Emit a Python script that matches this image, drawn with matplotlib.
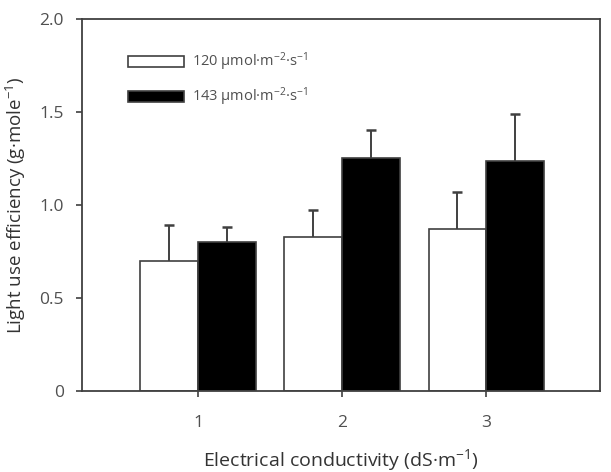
import numpy as np
import matplotlib
matplotlib.use('Agg')
import matplotlib.pyplot as plt

plt.rcParams['font.family'] = ['Open Sans', 'DejaVu Sans']
plt.rcParams['mathtext.fontset'] = 'custom'
plt.rcParams['mathtext.rm'] = 'Open Sans'

# data
ec_levels = [1, 2, 3]
lue_120 = [0.70, 0.83, 0.87]
err_120 = [0.19, 0.145, 0.20]
lue_143 = [0.80, 1.255, 1.235]
err_143 = [0.08, 0.15, 0.255]
labels = [r'120 $\mathregular{µmol·m^{-2}·s^{-1}}$',
          r'143 $\mathregular{µmol·m^{-2}·s^{-1}}$']

text_col = '#505050'
line_col = '#404040'

fig = plt.figure(figsize=(6.11, 4.72), dpi=100)
ax = fig.add_axes([0.1342, 0.1716, 0.8478, 0.788])

x = np.array(ec_levels, dtype=float)
w = 0.4
ax.bar(x - w / 2, lue_120, w, color='white', edgecolor=line_col, linewidth=1.2,
       label=labels[0], zorder=2)
ax.bar(x + w / 2, lue_143, w, color='black', edgecolor=line_col, linewidth=1.2,
       label=labels[1], zorder=2)

# upper error bars only
for xs, ys, es in [(x - w / 2, lue_120, err_120), (x + w / 2, lue_143, err_143)]:
    eb = ax.errorbar(xs, ys, yerr=[np.zeros(3), es], fmt='none', ecolor=line_col,
                     elinewidth=1.4, capsize=3.3, capthick=1.8, zorder=1)
    eb.lines[1][0].set_visible(False)

ax.set_xlim(0.195, 3.79)
ax.set_ylim(0, 2.0)
ax.set_xticks(ec_levels)
ax.set_xticklabels(['1', '2', '3'])
ax.set_yticks([0, 0.5, 1.0, 1.5, 2.0])
ax.set_yticklabels(['0', '0.5', '1.0', '1.5', '2.0'])
ax.tick_params(axis='both', direction='out', length=4, width=1.2, color=line_col,
               labelcolor=text_col, labelsize=12.5)
ax.tick_params(axis='y', pad=9)
ax.tick_params(axis='x', pad=13)
for s in ax.spines.values():
    s.set_color(line_col)
    s.set_linewidth(1.3)

ax.set_ylabel(r'Light use efficiency (g·mole$\mathregular{^{-1}}$)', fontsize=13.5,
              color='#333333', labelpad=8)
ax.set_xlabel(r'Electrical conductivity (dS·m$\mathregular{^{-1}}$)', fontsize=14,
              color='#333333', labelpad=12)

leg = ax.legend(loc='upper left', bbox_to_anchor=(0.089, 0.915), frameon=False,
                fontsize=10.5, handlelength=3.8, handleheight=0.75, handletextpad=0.55,
                labelspacing=0.85, borderpad=0, borderaxespad=0)
for t in leg.get_texts():
    t.set_color(text_col)

fig.savefig('out.png', dpi=100)
